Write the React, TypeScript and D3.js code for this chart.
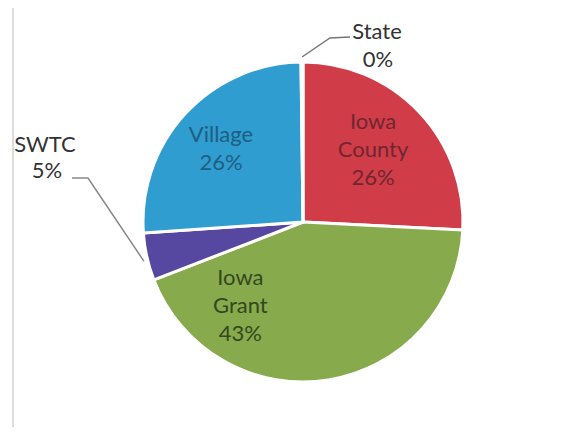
import React from "react";
import * as d3 from "d3";

const categories = ["Iowa County", "Iowa Grant", "SWTC", "Village", "State"];
const values = [25.8, 43.3, 4.8, 25.9, 0.2];
const pctLabels = ["26%", "43%", "5%", "26%", "0%"];
const colors = ["#d03c48", "#87aa4c", "#5648a0", "#2f9dcf", "#9bbb59"];
const textColors = ["#702630", "#34481f", "#333", "#205e82", "#333"];

const W = 577;
const H = 435;
const cx = 303;
const cy = 222;
const R = 160;

// inside label placement: [angle deg (clockwise from top), radius fraction]
const insidePlace: (number[] | null)[] = [[44, 0.63], [217, 0.65], null, [312, 0.69], null];

export default function App() {
  const pie = d3.pie<number>().sort(null).value((d) => d)(values);
  const arc = d3.arc<d3.PieArcDatum<number>>().innerRadius(0).outerRadius(R);
  const font = "Lato, 'Open Sans', sans-serif";

  const ang = (a: d3.PieArcDatum<number>) => (a.startAngle + a.endAngle) / 2;
  const pt = (t: number, r: number) => [cx + r * Math.sin(t), cy - r * Math.cos(t)];

  const stateArc = pie[4];
  const swtcArc = pie[2];
  const sA = pt(ang(stateArc), R + 2);
  const wA = pt(ang(swtcArc), R + 1);

  return (
    <div style={{ margin: -8 }}>
      <svg width={W} height={H} style={{ display: "block", background: "#fff" }}>
        <line x1={13} y1={5} x2={W} y2={5} stroke="#e2e2e2" strokeWidth={1.5} />
        <line x1={13} y1={5} x2={13} y2={H} stroke="#dcdcdc" strokeWidth={2} />
        <g transform={`translate(${cx},${cy})`}>
          {pie.map((p, i) => (
            <path key={categories[i]} d={arc(p) || ""} fill={colors[i]} stroke="#fff" strokeWidth={3} strokeLinejoin="round" />
          ))}
        </g>
        {pie.map((p, i) => {
          const place = insidePlace[i];
          if (!place) return null;
          const [x, y] = pt((place[0] * Math.PI) / 180, R * place[1]);
          const words = categories[i].split(" ");
          const lines = [...words, pctLabels[i]];
          const lh = 28;
          const y0 = y - ((lines.length - 1) * lh) / 2;
          return (
            <text key={i} textAnchor="middle" fontFamily={font} fontSize={22} fill={textColors[i]}>
              {lines.map((l, j) => (
                <tspan key={j} x={x} y={y0 + j * lh} dy="0.35em">
                  {l}
                </tspan>
              ))}
            </text>
          );
        })}
        {/* State callout */}
        <polyline points={`${sA[0]},${sA[1] - 3} 330,38 350,37`} fill="none" stroke="#777" strokeWidth={1.5} />
        <text textAnchor="middle" fontFamily={font} fontSize={22} fill="#333">
          <tspan x={377} y={31} dy="0.35em">{categories[4]}</tspan>
          <tspan x={378} y={59} dy="0.35em">{pctLabels[4]}</tspan>
        </text>
        {/* SWTC callout */}
        <polyline points={`72,178 88,178 ${wA[0] - 2},${wA[1] + 4}`} fill="none" stroke="#888" strokeWidth={1.5} />
        <text textAnchor="middle" fontFamily={font} fontSize={22} fill="#333">
          <tspan x={45} y={144} dy="0.35em">{categories[2]}</tspan>
          <tspan x={47} y={170} dy="0.35em">{pctLabels[2]}</tspan>
        </text>
      </svg>
    </div>
  );
}
